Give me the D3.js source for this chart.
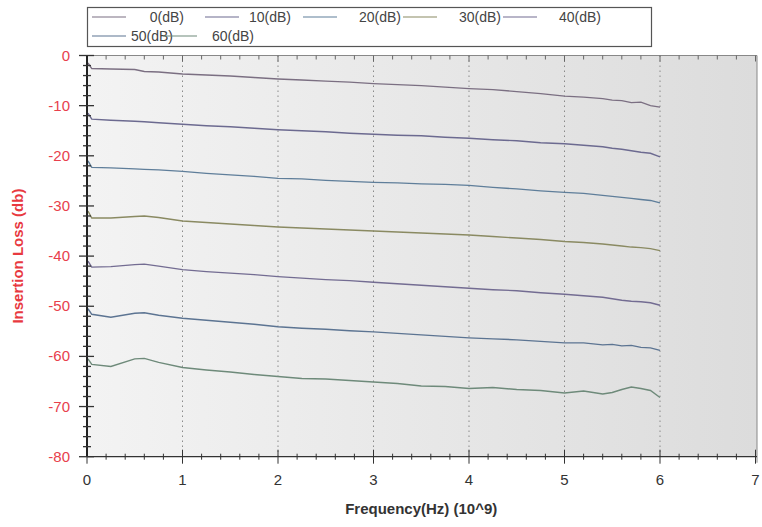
<!DOCTYPE html>
<html><head><meta charset="utf-8">
<script src="https://cdn.jsdelivr.net/npm/d3@7"></script>
<style>body{margin:0;background:#fff;}svg{display:block;font-family:"Liberation Sans",Arial,sans-serif;}</style>
</head><body><svg id="c" width="762" height="527"></svg>
<script>
const freq = [0.01,0.05,0.25,0.5,0.6,0.75,1,1.25,1.5,1.75,2,2.25,2.5,2.75,3,3.25,3.5,3.75,4,4.25,4.5,4.75,5,5.2,5.4,5.5,5.6,5.7,5.8,5.9,6];
const s0  = [-1.5,-2.6,-2.7,-2.8,-3.2,-3.3,-3.7,-3.9,-4.1,-4.4,-4.7,-4.9,-5.1,-5.3,-5.6,-5.8,-6.0,-6.3,-6.6,-6.8,-7.2,-7.6,-8.1,-8.3,-8.6,-8.9,-9.0,-9.4,-9.3,-10.0,-10.3];
const s10 = [-11.5,-12.7,-12.9,-13.1,-13.2,-13.4,-13.7,-14.0,-14.2,-14.5,-14.8,-15.0,-15.2,-15.5,-15.7,-15.9,-16.0,-16.3,-16.5,-16.8,-17.0,-17.4,-17.6,-17.9,-18.2,-18.5,-18.7,-19.0,-19.3,-19.5,-20.2];
const s20 = [-21.0,-22.3,-22.4,-22.6,-22.7,-22.8,-23.1,-23.5,-23.8,-24.1,-24.5,-24.6,-24.9,-25.1,-25.3,-25.4,-25.6,-25.7,-25.9,-26.3,-26.6,-27.0,-27.3,-27.5,-27.9,-28.1,-28.3,-28.5,-28.7,-28.9,-29.4];
const s30 = [-31.0,-32.4,-32.4,-32.1,-32.0,-32.3,-33.0,-33.3,-33.6,-33.9,-34.2,-34.4,-34.6,-34.8,-35.0,-35.2,-35.4,-35.6,-35.8,-36.1,-36.4,-36.7,-37.1,-37.3,-37.6,-37.8,-38.0,-38.2,-38.3,-38.5,-38.9];
const s40 = [-41.0,-42.2,-42.1,-41.7,-41.6,-42.0,-42.7,-43.1,-43.4,-43.7,-44.1,-44.4,-44.7,-44.9,-45.2,-45.5,-45.8,-46.1,-46.4,-46.7,-46.9,-47.3,-47.6,-47.9,-48.2,-48.5,-48.8,-49.0,-49.1,-49.3,-49.8];
const s50 = [-50.5,-51.6,-52.2,-51.4,-51.3,-51.8,-52.4,-52.8,-53.2,-53.6,-54.1,-54.4,-54.6,-54.9,-55.1,-55.4,-55.7,-56.0,-56.3,-56.5,-56.7,-57.0,-57.3,-57.3,-57.7,-57.6,-57.9,-57.8,-58.2,-58.3,-58.8];
const s60 = [-60.5,-61.6,-62.0,-60.5,-60.4,-61.2,-62.2,-62.7,-63.1,-63.6,-64.0,-64.4,-64.5,-64.8,-65.1,-65.4,-65.9,-66.0,-66.4,-66.2,-66.6,-66.8,-67.3,-66.9,-67.5,-67.2,-66.6,-66.1,-66.4,-66.8,-68.2];
const seriesNames = ["0(dB)","10(dB)","20(dB)","30(dB)","40(dB)","50(dB)","60(dB)"];
const seriesColors = ["#7b6f82","#6c6a90","#5f7e9a","#8a8a62","#736c92","#5c7492","#6e8a7a"];
const xTicks = [0,1,2,3,4,5,6,7];
const yTicks = [0,-10,-20,-30,-40,-50,-60,-70,-80];
const allSeries = [s0,s10,s20,s30,s40,s50,s60];

const svg = d3.select("#c");
const x = d3.scaleLinear().domain([0,7]).range([87,755.5]);
const y = d3.scaleLinear().domain([-80,0]).range([456.7,55.5]);

const defs = svg.append("defs");
const g = defs.append("linearGradient").attr("id","bg").attr("x1","0").attr("x2","1").attr("y1","0").attr("y2","0");
g.append("stop").attr("offset","0").attr("stop-color","#f3f3f3");
g.append("stop").attr("offset","1").attr("stop-color","#dcdcdc");

svg.append("rect").attr("x",x(0)).attr("y",y(0)).attr("width",x(7)-x(0)+1.5).attr("height",y(-80)-y(0)).attr("fill","url(#bg)");

// vertical grid
svg.append("g").selectAll("line").data(xTicks.filter(d=>d>0&&d<7)).join("line")
  .attr("x1",d=>x(d)).attr("x2",d=>x(d)).attr("y1",y(0)).attr("y2",y(-80))
  .attr("stroke","#8a8a8a").attr("stroke-width",1).attr("stroke-dasharray","1.5,3.5");

// border top and right
svg.append("line").attr("x1",x(0)).attr("x2",x(7)+1.5).attr("y1",y(0)).attr("y2",y(0)).attr("stroke","#888");
svg.append("line").attr("x1",x(7)+1.5).attr("x2",x(7)+1.5).attr("y1",y(0)).attr("y2",y(-80)+6).attr("stroke","#888");

// top ticks
const minorX = d3.range(0,7.001,0.2);
svg.append("g").selectAll("line").data(minorX).join("line")
  .attr("x1",d=>x(d)).attr("x2",d=>x(d)).attr("y1",y(0)).attr("y2",d=>y(0)+(Math.abs(d-Math.round(d))<1e-6?6:4))
  .attr("stroke","#666");

// series lines
const line = d3.line().x((d,i)=>x(freq[i])).y(d=>y(d));
svg.append("g").selectAll("path").data(allSeries).join("path")
  .attr("d",d=>line(d)).attr("fill","none").attr("stroke",(d,i)=>seriesColors[i]).attr("stroke-width",1.4);

// bottom axis
const bottom = svg.append("g").attr("transform",`translate(0,${y(-80)})`);
bottom.append("line").attr("x1",x(0)).attr("x2",x(7)+1.5).attr("stroke","#333").attr("stroke-width",1.2);
bottom.selectAll("line.mn").data(minorX).join("line").attr("class","mn")
  .attr("x1",d=>x(d)).attr("x2",d=>x(d))
  .attr("y1",d=>Math.abs(d-Math.round(d))<1e-6?-7:-3).attr("y2",d=>Math.abs(d-Math.round(d))<1e-6?7:3)
  .attr("stroke","#333");
bottom.selectAll("text").data(xTicks).join("text")
  .attr("x",d=>x(d)).attr("y",28).attr("text-anchor","middle")
  .attr("font-size",15).attr("fill","#333").text(d=>d);

// left axis
const minorY = d3.range(-80,0.001,2);
const left = svg.append("g").attr("transform",`translate(${x(0)},0)`);
left.append("line").attr("y1",y(0)).attr("y2",y(-80)).attr("stroke","#222").attr("stroke-width",2);
left.selectAll("line.mn").data(minorY).join("line").attr("class","mn")
  .attr("y1",d=>y(d)).attr("y2",d=>y(d))
  .attr("x1",d=>d%10===0?-8:-4).attr("x2",d=>d%10===0?7:4)
  .attr("stroke","#333").attr("stroke-width",1.3);
left.selectAll("text").data(yTicks).join("text")
  .attr("x",-17).attr("y",d=>y(d)+5).attr("text-anchor","end")
  .attr("font-size",15).attr("fill","#e8404c").text(d=>d);

// axis titles
svg.append("text").attr("x",x(3.5)).attr("y",514).attr("text-anchor","middle")
  .attr("font-size",15).attr("font-weight","bold").attr("fill","#333").text("Frequency(Hz) (10^9)");
svg.append("text").attr("transform",`translate(23,${y(-40)}) rotate(-90)`).attr("text-anchor","middle")
  .attr("font-size",15).attr("font-weight","bold").attr("fill","#e8393f").text("Insertion Loss (db)");

// legend
const legend = svg.append("g");
legend.append("rect").attr("x",87.5).attr("y",7.5).attr("width",564).attr("height",39)
  .attr("fill","#fff").attr("stroke","#555").attr("stroke-width",1.2);
const lineStart = [92,205,303,403,503,92,163];
const rowY = [17,17,17,17,17,36,36];
const textEnd = [184,291,401,501,601,173,254];
seriesNames.forEach((n,i)=>{
  const lx = lineStart[i], ly = rowY[i];
  legend.append("line").attr("x1",lx).attr("x2",lx+34).attr("y1",ly).attr("y2",ly)
    .attr("stroke",seriesColors[i]).attr("stroke-width",1.2);
  legend.append("text").attr("x",textEnd[i]).attr("y",ly+5).attr("text-anchor","end")
    .attr("font-size",14).attr("fill","#444").text(n);
});
</script></body></html>
